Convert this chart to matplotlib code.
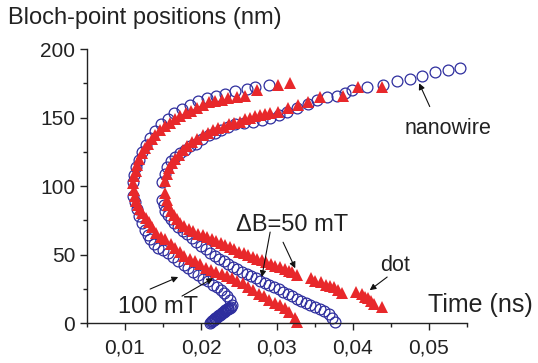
import matplotlib
matplotlib.use("Agg")
import matplotlib.pyplot as plt
from matplotlib.ticker import MultipleLocator, FuncFormatter

plt.rcParams['font.family'] = ['Liberation Sans', 'DejaVu Sans']

# 100 mT, nanowire (open circles)
wire100_x = [0.0212, 0.0213, 0.0214, 0.0215, 0.0216, 0.0217, 0.0218, 0.0219, 0.0220, 0.0221,
             0.0222, 0.0223, 0.0224, 0.0225, 0.0226, 0.0227, 0.0228, 0.0229, 0.0230, 0.0231,
             0.0232, 0.0233, 0.0234, 0.0235, 0.0236, 0.0238, 0.0240,
             0.0241, 0.0238, 0.0234, 0.0230, 0.0226, 0.0221, 0.0216, 0.0209, 0.0203, 0.0196, 0.0190,
             0.0183, 0.0177, 0.0170, 0.0163, 0.0157, 0.0150, 0.0143, 0.0138, 0.0133, 0.0130,
             0.0126, 0.0122, 0.0119, 0.0116, 0.0113, 0.0111,
             0.0111, 0.0112, 0.0115, 0.0118, 0.0122, 0.0127, 0.0133, 0.0140, 0.0148, 0.0156,
             0.0165, 0.0175, 0.0185, 0.0196, 0.0208, 0.0220, 0.0232, 0.0245, 0.0260, 0.0271, 0.0289]
wire100_y = [0.3, 0.8, 1.2, 1.7, 2.1, 2.6, 3.0, 3.5, 3.9, 4.4,
             4.8, 5.3, 5.7, 6.2, 6.6, 7.0, 7.5, 7.9, 8.3, 8.8,
             9.2, 9.6, 10.0, 10.4, 10.8, 11.3, 11.8,
             13, 16.5, 19.5, 22, 24, 26, 28, 30.5, 32.5, 35, 37.5,
             40, 42.5, 45, 48, 51, 53, 55, 58, 61, 64,
             68, 73, 78, 83, 88, 93,
             103, 108, 114, 119, 125, 130, 135, 140, 145, 149,
             153, 156, 159, 162, 164, 166, 167, 169, 171, 172, 174]

# 100 mT, dot (triangles)
dot100_x = [0.0326, 0.0324, 0.0316, 0.0310, 0.0304, 0.0297, 0.0290, 0.0283, 0.0276, 0.0269,
            0.0262, 0.0255, 0.0248, 0.0241, 0.0234, 0.0227, 0.0220, 0.0213, 0.0206, 0.0199,
            0.0192, 0.0185, 0.0178, 0.0172, 0.0166, 0.0160, 0.0153, 0.0147, 0.0141, 0.0136,
            0.0131, 0.0127, 0.0123, 0.0120, 0.0117, 0.0115, 0.0113, 0.0112,
            0.0111, 0.0112, 0.0114, 0.0116, 0.0119, 0.0122, 0.0126, 0.0130, 0.0135, 0.0140,
            0.0146, 0.0152, 0.0159, 0.0166, 0.0173, 0.0180, 0.0187, 0.0195, 0.0203, 0.0211,
            0.0219, 0.0228, 0.0236, 0.0247, 0.0258, 0.0274, 0.0301, 0.0317]
dot100_y = [1, 4, 8, 11, 13, 15, 17, 19.5, 21.5, 24,
            26.5, 29, 31, 33, 34.5, 36, 37.5, 39, 40.5, 43,
            45, 47, 49, 52, 55, 58, 61, 63, 66, 70,
            74, 77, 80, 83, 86, 89, 93, 97,
            102, 107, 111, 115, 120, 124, 128, 131, 134, 137,
            141, 144, 146, 149, 151, 153, 155, 157, 159, 161,
            162, 163, 164, 165, 166, 170, 174, 175]

# 50 mT, nanowire (open circles)
wire50_x = [0.0376, 0.0373, 0.0368, 0.0362, 0.0356, 0.0350, 0.0344, 0.0338, 0.0332, 0.0326,
            0.0320, 0.0314, 0.0308, 0.0302, 0.0296, 0.0290, 0.0284, 0.0278, 0.0272, 0.0266,
            0.0260, 0.0254, 0.0248, 0.0242, 0.0236, 0.0230, 0.0224, 0.0218, 0.0212, 0.0206,
            0.0200, 0.0194, 0.0188, 0.0182, 0.0176, 0.0170, 0.0165, 0.0160, 0.0156, 0.0153,
            0.0151, 0.0149,
            0.0149, 0.0152, 0.0155, 0.0160, 0.0166, 0.0172, 0.0179, 0.0186, 0.0193, 0.0201,
            0.0210, 0.0218, 0.0226, 0.0235, 0.0245, 0.0256, 0.0268, 0.0280, 0.0291, 0.0302,
            0.0313, 0.0326, 0.0341, 0.0353, 0.0366, 0.0379, 0.0390, 0.0399, 0.0418, 0.0440,
            0.0458, 0.0475, 0.0491, 0.0508, 0.0525, 0.0541]
wire50_y = [1, 4, 6.5, 8.5, 10, 11.5, 13, 14.5, 16, 17.5,
            19.5, 21, 22.5, 24.5, 26, 28, 29.5, 31, 33, 34.5,
            36, 37.5, 39.5, 41, 43, 45, 47, 49, 51, 54,
            56, 59, 62, 65, 67, 70, 73, 76, 79, 82,
            86, 90,
            103, 109, 114, 118, 121, 124, 126, 129, 131, 134,
            137, 139, 141, 143, 145, 146, 147, 148, 150, 152,
            154, 157, 160, 163, 165, 166, 168, 170, 172, 174,
            177, 178, 180, 183, 185, 186]

# 50 mT, dot (triangles)
dot50_x = [0.0438, 0.0428, 0.0424, 0.0420, 0.0416, 0.0412, 0.0404, 0.0385, 0.0380, 0.0375,
           0.0370, 0.0365, 0.0358, 0.0350, 0.0345, 0.0326, 0.0320, 0.0316, 0.0310, 0.0304,
           0.0298, 0.0292, 0.0286, 0.0280, 0.0274, 0.0268, 0.0262, 0.0256, 0.0250, 0.0244,
           0.0238, 0.0232, 0.0226, 0.0220, 0.0214, 0.0208, 0.0202, 0.0196, 0.0190, 0.0184,
           0.0178, 0.0173, 0.0168, 0.0164, 0.0160, 0.0157, 0.0155, 0.0153,
           0.0153, 0.0155, 0.0158, 0.0162, 0.0166, 0.0171, 0.0176, 0.0182, 0.0188, 0.0195,
           0.0202, 0.0209, 0.0216, 0.0223, 0.0230, 0.0237, 0.0244, 0.0251, 0.0258, 0.0264,
           0.0271, 0.0278, 0.0284, 0.0291, 0.0301, 0.0314, 0.0328, 0.0341, 0.0357, 0.0387,
           0.0407, 0.0438]
dot50_y = [12, 14, 16, 18, 19, 21, 23, 22, 24, 26,
           27, 28, 30, 31, 33, 35, 37, 38, 39.5, 41,
           42, 43, 44.5, 46, 47, 48, 49.5, 51, 52, 54,
           55.5, 57, 58.5, 60, 61, 62.5, 64, 65, 67, 69,
           71, 73, 76, 79, 82, 86, 90, 95,
           104, 109, 113, 117, 120, 123, 126, 129, 132, 134,
           137, 139, 141, 142, 143, 145, 146, 147, 149, 150,
           151, 152, 152.5, 153, 154, 157, 159, 161, 165, 166,
           172, 172]

x_ticks = [0.01, 0.02, 0.03, 0.04, 0.05]
y_ticks = [0, 50, 100, 150, 200]

blue = '#2e2e9e'
red = '#e8282b'

fig = plt.figure(figsize=(5.38, 3.63), dpi=100)
ax = fig.add_axes([0.1617, 0.110, 0.868 - 0.1617, 0.865 - 0.110])

for xs, ys in [(wire100_x, wire100_y), (wire50_x, wire50_y)]:
    ax.plot(xs, ys, 'o', ls='none', ms=7.8, mfc='none', mec=blue, mew=0.9, clip_on=False)
for xs, ys in [(dot100_x, dot100_y), (dot50_x, dot50_y)]:
    ax.plot(xs, ys, '^', ls='none', ms=8.6, color=red, mec=red, mew=0, clip_on=False)

ax.set_xlim(0.005, 0.055)
ax.set_ylim(0, 200)
ax.set_xticks(x_ticks)
ax.set_yticks(y_ticks)
ax.xaxis.set_minor_locator(MultipleLocator(0.005))
ax.yaxis.set_minor_locator(MultipleLocator(25))
ax.xaxis.set_major_formatter(FuncFormatter(lambda v, p: ('%.2f' % v).replace('.', ',')))
ax.spines['top'].set_visible(False)
ax.spines['right'].set_visible(False)
for s in ['left', 'bottom']:
    ax.spines[s].set_linewidth(1.0)
    ax.spines[s].set_color('#222222')
ax.tick_params(which='major', direction='out', length=5, width=1, labelsize=15, colors='#222222')
ax.tick_params(which='minor', direction='out', length=3, width=1, colors='#222222')
ax.tick_params(axis='x', pad=6)

fig.text(8 / 538, 1 - 18 / 363, 'Bloch-point positions (nm)', fontsize=17,
         ha='left', va='center', color='#222222')
ax.text(0.0567, 13, 'Time (ns)', fontsize=18, ha='center', va='center',
        color='#222222', clip_on=False)

arrow = dict(arrowstyle='-|>', lw=0.8, color='#111111', mutation_scale=9,
             shrinkA=0, shrinkB=0)
ax.text(0.0143, 11.7, '100 mT', fontsize=17, ha='center', va='center', color='#222222')
ax.annotate('', xy=(0.0170, 33.6), xytext=(0.0133, 24.8), arrowprops=arrow)
ax.annotate('', xy=(0.0216, 32.8), xytext=(0.0175, 19.7), arrowprops=arrow)

ax.text(0.0320, 71.5, '\u0394B=50 mT', fontsize=17, ha='center', va='center', color='#222222')
ax.annotate('', xy=(0.0280, 33.6), xytext=(0.0291, 66.4), arrowprops=arrow)
ax.annotate('', xy=(0.0324, 40), xytext=(0.0308, 59), arrowprops=arrow)

ax.text(0.0455, 42, 'dot', fontsize=15.5, ha='center', va='center', color='#222222')
ax.annotate('', xy=(0.0422, 24), xytext=(0.0445, 33.6), arrowprops=arrow)

ax.text(0.0525, 142, 'nanowire', fontsize=15.5, ha='center', va='center', color='#222222')
ax.annotate('', xy=(0.0487, 175), xytext=(0.0501, 158), arrowprops=arrow)

fig.savefig('out.png', dpi=100)
